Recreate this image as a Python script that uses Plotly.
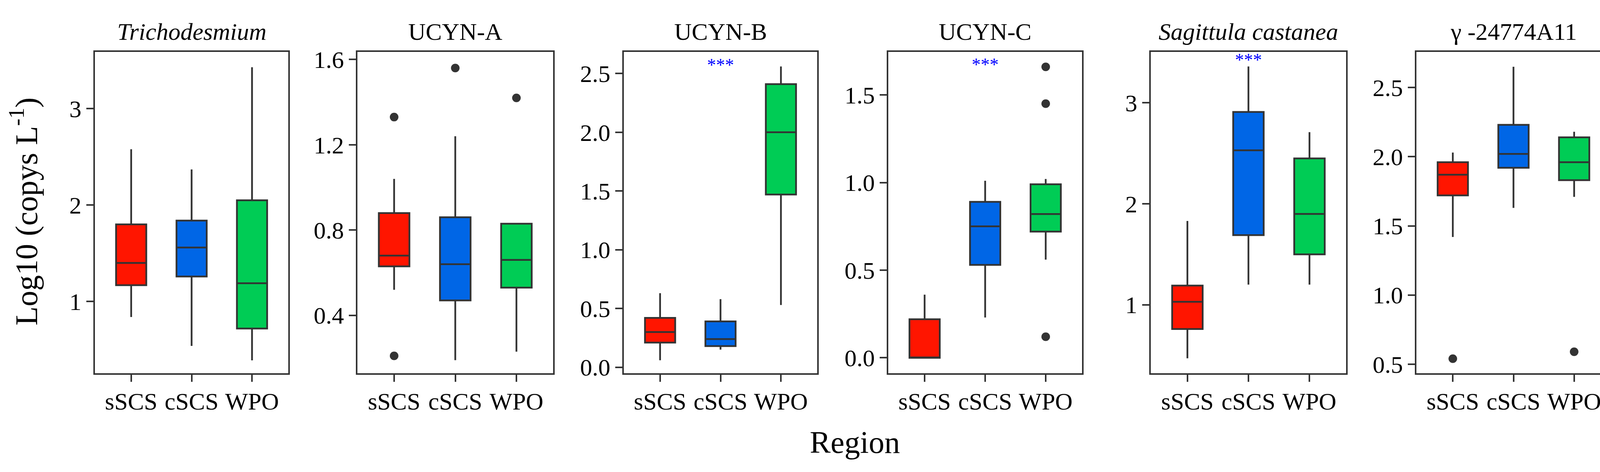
import plotly.graph_objects as go
from plotly.subplots import make_subplots

# Regions (x categories) and targets (one panel each)
REGIONS = ["sSCS", "cSCS", "WPO"]
TARGETS = ["<i>Trichodesmium</i>", "UCYN-A", "UCYN-B", "UCYN-C",
           "<i>Sagittula castanea</i>", "γ -24774A11"]

# Box statistics per panel, order sSCS / cSCS / WPO
lower_fence = [[0.84, 0.54, 0.39], [0.52, 0.19, 0.23], [0.06, 0.15, 0.53],
               [0.00, 0.23, 0.56], [0.47, 1.20, 1.20], [1.42, 1.63, 1.71]]
q1 = [[1.17, 1.26, 0.72], [0.63, 0.47, 0.53], [0.21, 0.18, 1.47],
      [0.00, 0.53, 0.72], [0.76, 1.69, 1.50], [1.72, 1.92, 1.83]]
median = [[1.40, 1.56, 1.19], [0.68, 0.64, 0.66], [0.30, 0.24, 2.00],
          [0.00, 0.75, 0.82], [1.03, 2.53, 1.90], [1.87, 2.02, 1.96]]
q3 = [[1.80, 1.84, 2.05], [0.88, 0.86, 0.83], [0.42, 0.39, 2.41],
      [0.22, 0.89, 0.99], [1.19, 2.91, 2.45], [1.96, 2.23, 2.14]]
upper_fence = [[2.58, 2.37, 3.43], [1.04, 1.24, 0.83], [0.63, 0.58, 2.56],
               [0.36, 1.01, 1.02], [1.83, 3.36, 2.71], [2.03, 2.65, 2.18]]

# Outliers per panel
outlier_x = [[], ["sSCS", "sSCS", "cSCS", "WPO"], [], ["WPO", "WPO", "WPO"], [], ["sSCS", "WPO"]]
outlier_y = [[], [1.33, 0.21, 1.56, 1.42], [], [1.66, 1.45, 0.12], [], [0.54, 0.59]]

# Significance labels (panel index, region, y)
sig_panel = [2, 3, 4]
sig_region = ["cSCS", "cSCS", "cSCS"]
sig_y = [2.56, 1.665, 3.41]

# Y axis ranges and ticks
y_ranges = [[0.255, 3.59], [0.128, 1.636], [-0.052, 2.685],
            [-0.089, 1.746], [0.321, 3.505], [0.434, 2.758]]
y_ticks = [[1, 2, 3], [0.4, 0.8, 1.2, 1.6], [0.0, 0.5, 1.0, 1.5, 2.0, 2.5],
           [0.0, 0.5, 1.0, 1.5], [1, 2, 3], [0.5, 1.0, 1.5, 2.0, 2.5]]
y_ticktext = [["1", "2", "3"], ["0.4", "0.8", "1.2", "1.6"],
              ["0.0", "0.5", "1.0", "1.5", "2.0", "2.5"],
              ["0.0", "0.5", "1.0", "1.5"], ["1", "2", "3"],
              ["0.5", "1.0", "1.5", "2.0", "2.5"]]

COLORS = {"sSCS": "#FF1500", "cSCS": "#0066E6", "WPO": "#00CC55"}
LINE = "#333333"
FONT = "Liberation Serif"
W, H = 4161, 1209

# panel placement in pixels
panel_px = [(243, 738), (915, 1416), (1597, 2092), (2274, 2770), (2946, 3446), (3626, 4123)]
top_px, bottom_px = 123, 969

fig = make_subplots(rows=1, cols=6)

for p in range(6):
    for r, reg in enumerate(REGIONS):
        fig.add_trace(go.Box(
            x=[reg], q1=[q1[p][r]], median=[median[p][r]], q3=[q3[p][r]],
            lowerfence=[lower_fence[p][r]], upperfence=[upper_fence[p][r]],
            width=0.5, fillcolor=COLORS[reg], line=dict(color=LINE, width=4.5),
            whiskerwidth=0, boxpoints=False, showlegend=False, hoverinfo="skip"),
            row=1, col=p + 1)
    if outlier_x[p]:
        fig.add_trace(go.Scatter(
            x=outlier_x[p], y=outlier_y[p], mode="markers",
            marker=dict(color=LINE, size=22), showlegend=False), row=1, col=p + 1)

for k, p in enumerate(sig_panel):
    fig.add_trace(go.Scatter(
        x=[sig_region[k]], y=[sig_y[k]], mode="text", text=["***"],
        textfont=dict(family=FONT, size=46, color="#0000FF"),
        showlegend=False), row=1, col=p + 1)

ydom = [1 - bottom_px / H, 1 - top_px / H]
for p in range(6):
    x0, x1 = panel_px[p]
    fig.update_xaxes(domain=[x0 / W, x1 / W], type="category", categoryorder="array",
                     categoryarray=REGIONS, range=[-0.6, 2.6], row=1, col=p + 1)
    fig.update_yaxes(domain=ydom, range=y_ranges[p], tickmode="array",
                     tickvals=y_ticks[p], ticktext=y_ticktext[p], row=1, col=p + 1)
    fig.add_annotation(text=TARGETS[p], x=(x0 + x1) / 2 / W, y=1 - 70 / H,
                       xref="paper", yref="paper", showarrow=False,
                       xanchor="center", yanchor="middle",
                       font=dict(family=FONT, size=62, color="black"))

axis_style = dict(showline=True, mirror=True, linecolor=LINE, linewidth=4,
                  ticks="outside", ticklen=18, tickwidth=4, tickcolor=LINE,
                  showgrid=False, zeroline=False,
                  tickfont=dict(family=FONT, size=62, color="black"))
fig.update_xaxes(ticklabelstandoff=-4, **axis_style)
fig.update_yaxes(**axis_style)

fig.add_annotation(text="Log10 (copys L<sup>-1</sup>)", x=62 / W, y=1 - 543 / H,
                   xref="paper", yref="paper", showarrow=False, textangle=-90,
                   xanchor="center", yanchor="middle",
                   font=dict(family=FONT, size=80, color="black"))
fig.add_annotation(text="Region", x=2188 / W, y=1 - 1150 / H,
                   xref="paper", yref="paper", showarrow=False,
                   xanchor="center", yanchor="middle",
                   font=dict(family=FONT, size=80, color="black"))

fig.update_layout(width=W, height=H, margin=dict(l=0, r=0, t=0, b=0),
                  plot_bgcolor="white", paper_bgcolor="white", boxmode="overlay",
                  font=dict(family=FONT, color="black"))

fig.write_html("out.html", config={"displayModeBar": False},
               post_script="document.body.style.margin='0';")
